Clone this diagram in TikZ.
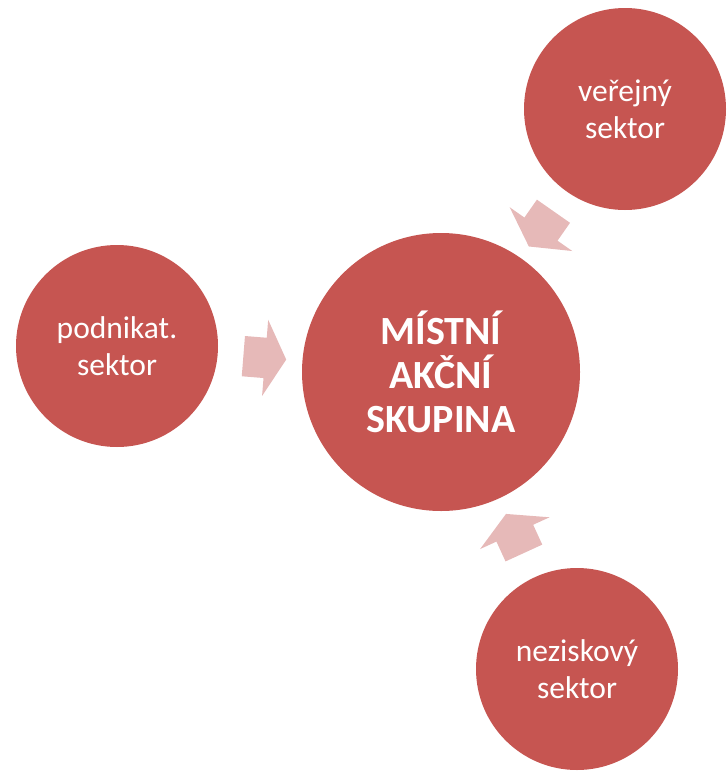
\documentclass[tikz,border=0pt]{standalone}
\usepackage{fontspec}
\setmainfont{Carlito}
\usepackage{tikz}
\usetikzlibrary{positioning, shapes.arrows}
\definecolor{sectorred}{HTML}{C65551}
\definecolor{flowpink}{HTML}{E6B9B8}
\tikzset{
    sector/.style={circle, fill=sectorred, text=white, minimum size=202pt, inner sep=0pt, align=center, font=\fontsize{31.5}{37}\selectfont},
    mas/.style={sector, minimum size=278pt, font=\bfseries\fontsize{40}{44}\selectfont},
    flow/.style={single arrow, fill=flowpink, draw=none, minimum height=43pt, inner xsep=0pt, inner ysep=20pt, text height=0pt, text depth=0pt, single arrow head extend=18pt, single arrow tip angle=122, sloped, allow upside down, pos=0.49},
}

\begin{document}
\begin{tikzpicture}[x=1pt, y=-1pt]
    \useasboundingbox (0,0) rectangle (726,771);
    \clip (0,0) rectangle (726,771);

    \node[mas] (mas) at (441,372) {MÍSTNÍ\\AKČNÍ\\SKUPINA};
    \node[sector] (podnik) at (117,346) {podnikat.\\sektor};
    \node[sector] (verej) at (625,109) {veřejný\\sektor};
    \node[sector] (nezisk) at (577,669) {neziskový\\sektor};

    \path (podnik) -- node[flow] {} (mas);
    \path (verej) -- node[flow] {} (mas);
    \path (nezisk) -- node[flow] {} (mas);
\end{tikzpicture}
\end{document}
